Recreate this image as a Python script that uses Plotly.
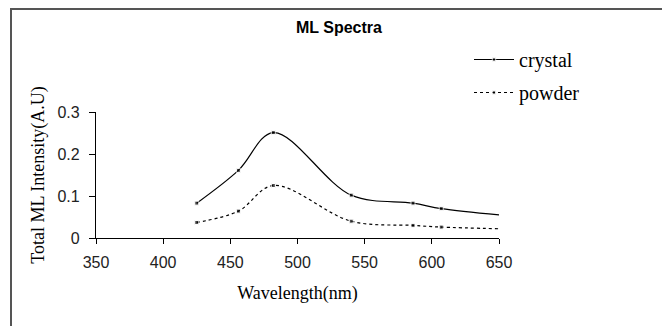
import plotly.graph_objects as go

wavelength = [425, 456, 482, 540, 586, 607, 650]
crystal = [0.083, 0.161, 0.251, 0.102, 0.083, 0.070, 0.055]
powder = [0.037, 0.064, 0.125, 0.040, 0.030, 0.026, 0.022]
marker_sizes = [4, 4, 4, 4, 4, 4, 0]

x_ticks = [350, 400, 450, 500, 550, 600, 650]
y_ticks = [0, 0.1, 0.2, 0.3]
y_tick_text = ["0", "0.1", "0.2", "0.3"]

# page is drawn with an 8px body margin, so figure coords = page coords - 8
W, H = 662, 318
PL, PR, PT, PB = 88, 491, 104, 230  # plot area in figure coords
PW, PH = PR - PL, PB - PT

fig = go.Figure()
fig.add_trace(go.Scatter(
    x=wavelength, y=crystal, name="crystal", mode="lines+markers",
    line=dict(color="black", width=1.2, shape="spline", smoothing=1.0),
    marker=dict(symbol="square", size=marker_sizes, color="black"),
    legendgroup="a",
))
fig.add_trace(go.Scatter(
    x=wavelength, y=powder, name="powder", mode="lines+markers",
    line=dict(color="black", width=1.2, shape="spline", smoothing=1.0, dash="3px,3px"),
    marker=dict(symbol="square", size=marker_sizes, color="black"),
    legendgroup="b",
))

fig.update_layout(
    width=W, height=H,
    margin=dict(l=PL, r=W - PR, t=PT, b=H - PB, autoexpand=False),
    paper_bgcolor="white", plot_bgcolor="white",
    title=dict(text="<b>ML Spectra</b>", x=331/W, xanchor="center", y=1-19/H, yanchor="middle",
               font=dict(family="Liberation Sans, Arial", size=16, color="black")),
    showlegend=True,
    legend=dict(x=(461-PL)/PW, xanchor="left", y=1+(PT-32)/PH, yanchor="top",
                font=dict(family="Liberation Serif, Times New Roman", size=20, color="black"),
                tracegroupgap=4, bgcolor="rgba(0,0,0,0)", itemwidth=40),
    xaxis=dict(range=[350, 650], tickvals=x_ticks, showgrid=False, zeroline=False, automargin=False,
               showline=True, linecolor="black", linewidth=1.2,
               ticks="outside", ticklen=5, tickcolor="black", ticklabelstandoff=5,
               tickfont=dict(family="Liberation Sans, Arial", size=16, color="#222"),
               title=dict(text="Wavelength(nm)", standoff=16,
                          font=dict(family="Liberation Serif, Times New Roman", size=18, color="black"))),
    yaxis=dict(range=[0, 0.3], tickvals=y_ticks, ticktext=y_tick_text, showgrid=False, zeroline=False,
               automargin=False,
               showline=True, linecolor="black", linewidth=1.2,
               ticks="outside", ticklen=6, tickcolor="black", ticklabelstandoff=6,
               tickfont=dict(family="Liberation Sans, Arial", size=16, color="#222"),
               title=dict(text="Total ML Intensity(A.U)", standoff=8,
                          font=dict(family="Liberation Serif, Times New Roman", size=18, color="black"))),
)
fig.add_shape(type="rect", xref="paper", yref="paper",
              x0=(3-PL)/PW, x1=(659-PL)/PW, y0=-(340-PB)/PH, y1=(PB-1)/PH,
              line=dict(color="#555", width=2), fillcolor="rgba(0,0,0,0)", layer="below")

fig.write_html("out.html")
